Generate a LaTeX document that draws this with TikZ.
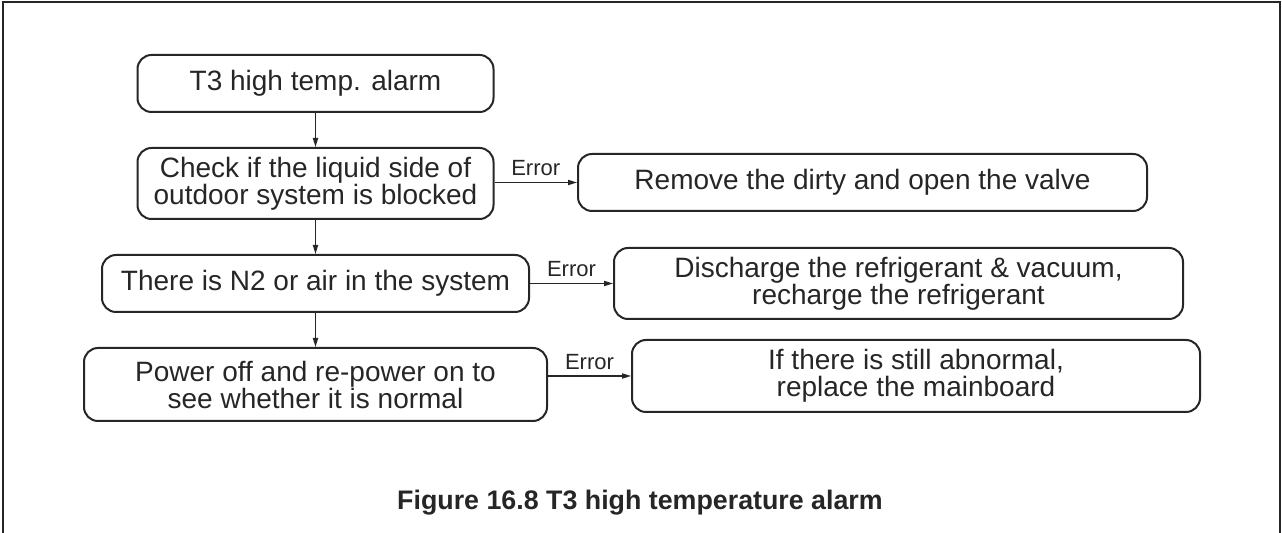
\documentclass[tikz,border=0pt]{standalone}
\usepackage{fontspec}
\setmainfont{Liberation Sans}
\usepackage{xcolor}
\definecolor{chartInk}{HTML}{262626}
\usetikzlibrary{arrows.meta}

\begin{document}
\begin{tikzpicture}[x=0.5pt, y=-0.5pt,
  flowBox/.style={draw=chartInk, line width=1pt, rounded corners=7pt, align=center, text=chartInk, inner sep=0pt, font=\fontsize{14}{13.5}\selectfont},
  flowLine/.style={draw=chartInk, line width=0.6pt, -{Triangle[length=4.5pt, width=2.6pt]}},
  errLabel/.style={midway, above, inner sep=3pt, text=chartInk, font=\fontsize{11}{13}\selectfont}]
  \useasboundingbox (0,0) rectangle (1282,533);
  \draw[chartInk, line width=1pt] (3,533) -- (3,2) -- (1280,2) -- (1280,533);
  \node[flowBox, minimum width=178pt, minimum height=28.5pt] (alarm) at (315.5,83.5) {T3 high temp. alarm};
  \node[flowBox, minimum width=178pt, minimum height=35.5pt] (liquid) at (315.5,183.5) {Check if the liquid side of\\outdoor system is blocked};
  \node[flowBox, minimum width=284.5pt, minimum height=28.5pt] (valve) at (862.5,182.5) {Remove the dirty and open the valve};
  \node[flowBox, minimum width=213.5pt, minimum height=28.5pt] (air) at (315.5,283.5) {There is N2 or air in the system};
  \node[flowBox, minimum width=284.5pt, minimum height=35.5pt] (recharge) at (898.5,283.5) {Discharge the refrigerant \& vacuum,\\recharge the refrigerant};
  \node[flowBox, minimum width=231.5pt, minimum height=36.5pt] (power) at (315.5,384.5) {Power off and re-power on to\\see whether it is normal};
  \node[flowBox, minimum width=284pt, minimum height=36pt] (board) at (916,376) {If there is still abnormal,\\replace the mainboard};
  \draw[flowLine] (alarm) -- (liquid);
  \draw[flowLine] (liquid) -- (air);
  \draw[flowLine] (air) -- (power);
  \draw[flowLine] (liquid.east |- valve.west) -- node[errLabel] {Error} (valve.west);
  \draw[flowLine] (air) -- node[errLabel] {Error} (recharge);
  \draw[flowLine] (power.east |- board.west) -- node[errLabel] {Error} (board.west);
  \node[anchor=base, text=chartInk, font=\bfseries\fontsize{13.4}{16}\selectfont] (caption) at (640,510) {Figure 16.8 T3 high temperature alarm};
\end{tikzpicture}
\end{document}
